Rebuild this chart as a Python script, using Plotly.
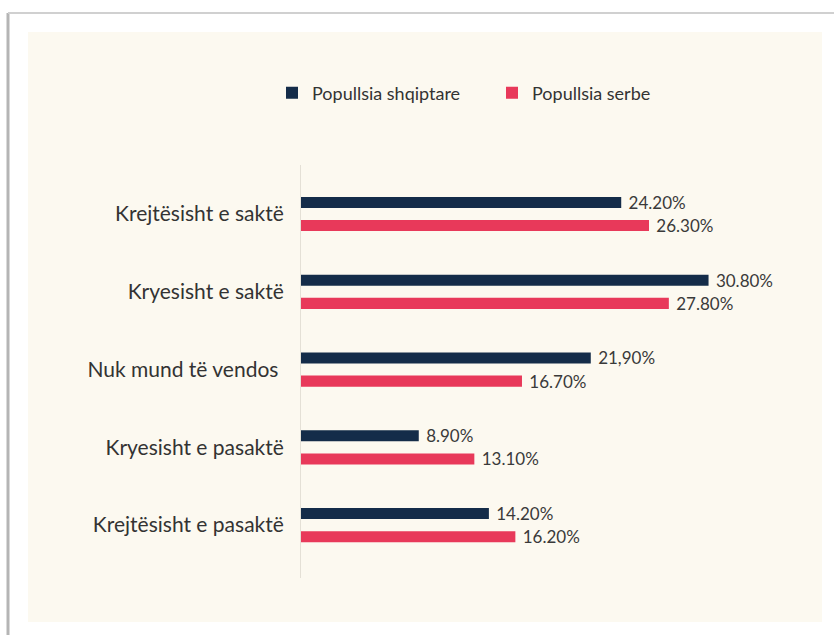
import plotly.graph_objects as go

categories = ["Krejtësisht e saktë", "Kryesisht e saktë", "Nuk mund të vendos ", "Kryesisht e pasaktë", "Krejtësisht e pasaktë"]
shqiptare = [24.2, 30.8, 21.9, 8.9, 14.2]
serbe = [26.3, 27.8, 16.7, 13.1, 16.2]
shqiptare_labels = ["24.20%", "30.80%", "21,90%", "8.90%", "14.20%"]
serbe_labels = ["26.30%", "27.80%", "16.70%", "13.10%", "16.20%"]

NAVY = "#142c49"
RED = "#e8395a"
CREAM = "#fcf9f0"
FONT = "Lato, 'Open Sans', sans-serif"

fig = go.Figure()
fig.add_trace(go.Bar(
    name="Popullsia shqiptare", y=categories, x=shqiptare, orientation="h",
    marker=dict(color=NAVY, line=dict(width=0)),
    width=0.142, offset=-0.22,
    text=shqiptare_labels, texttemplate=" %{text}", textposition="outside",
    cliponaxis=False, constraintext="none",
    textfont=dict(size=17, color="#3a3a3a", family=FONT),
))
fig.add_trace(go.Bar(
    name="Popullsia serbe", y=categories, x=serbe, orientation="h",
    marker=dict(color=RED, line=dict(width=0)),
    width=0.142, offset=0.078,
    text=serbe_labels, texttemplate=" %{text}", textposition="outside",
    cliponaxis=False, constraintext="none",
    textfont=dict(size=17, color="#3a3a3a", family=FONT),
))

W, H = 834, 635
L, R, T, B = 301, 780, 165, 578
pw, ph = R - L, B - T

def px(x):
    return (x - L) / pw

def py(y):
    return (B - y) / ph

shapes = [
    dict(type="rect", xref="paper", yref="paper", x0=px(28), x1=px(822), y0=py(622), y1=py(32),
         fillcolor=CREAM, line=dict(width=0), layer="below"),
    dict(type="line", xref="paper", yref="paper", x0=px(8), x1=px(8), y0=py(635), y1=py(13),
         line=dict(color="#b5b5b5", width=3), layer="below"),
    dict(type="line", xref="paper", yref="paper", x0=px(8), x1=px(834), y0=py(13), y1=py(13),
         line=dict(color="#d0d0d0", width=2), layer="below"),
]

fig.update_layout(
    width=W, height=H,
    margin=dict(l=L, r=W - R, t=T, b=H - B, pad=0),
    paper_bgcolor="white", plot_bgcolor="rgba(0,0,0,0)",
    barmode="overlay",
    shapes=shapes,
    font=dict(family=FONT, color="#333333"),
    showlegend=True,
    legend=dict(orientation="h", x=px(272), y=py(93), xanchor="left", yanchor="middle",
                font=dict(size=18, color="#333333", family=FONT), bgcolor="rgba(0,0,0,0)",
                itemwidth=30, entrywidth=175, traceorder="normal"),
    xaxis=dict(range=[0, 36.2], showgrid=False, zeroline=False, showticklabels=False,
               showline=False, ticks=""),
    yaxis=dict(autorange=False, range=[4.68, -0.63], showgrid=False, zeroline=False,
               showline=True, linecolor="#e4e0d6", linewidth=1, ticks="",
               ticklabelstandoff=12, tickfont=dict(size=21, color="#333333", family=FONT)),
)

fig.write_html("out.html", config={"displayModeBar": False},
               post_script="document.body.style.margin='0';document.body.style.overflow='hidden';")
